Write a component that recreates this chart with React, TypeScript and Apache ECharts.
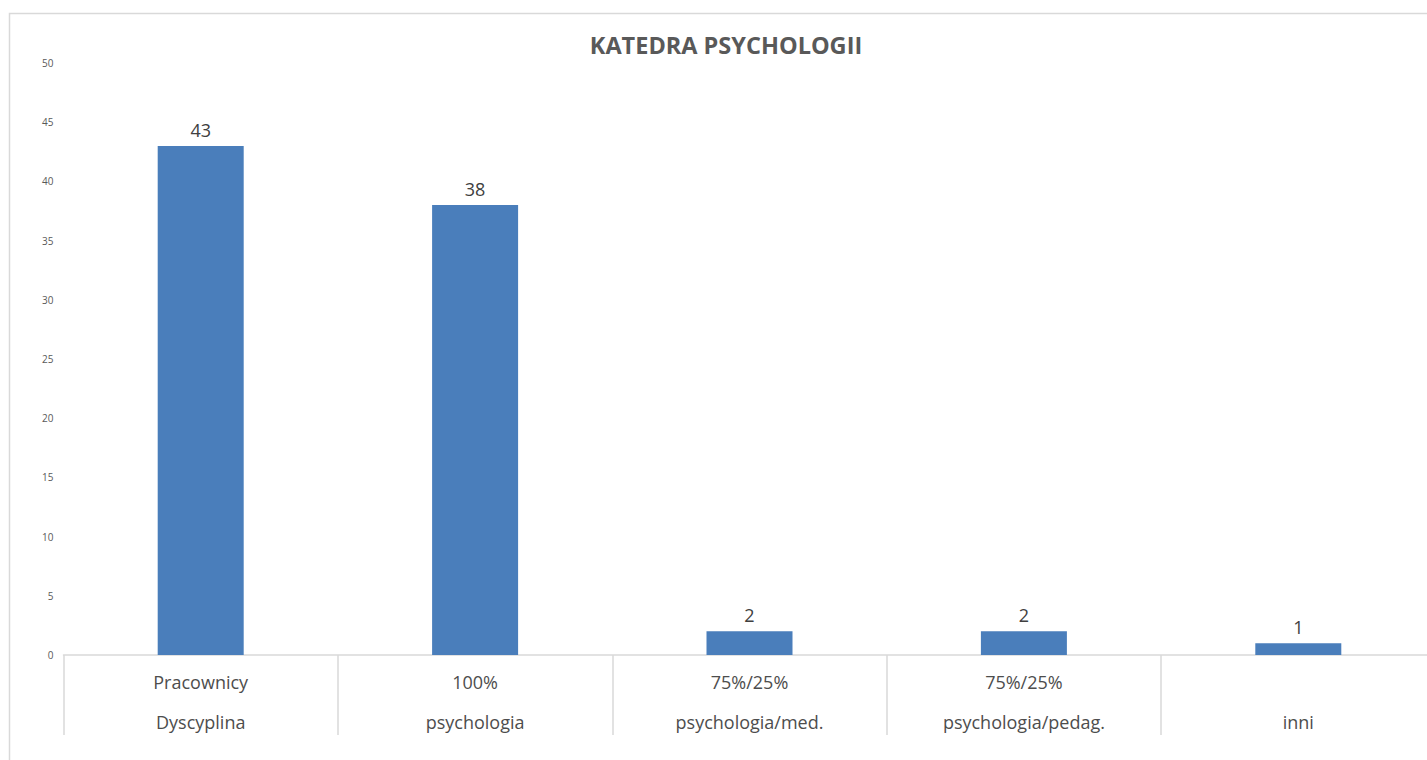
import React, { useEffect, useRef } from "react";
import * as echarts from "echarts";

const titleText = "KATEDRA PSYCHOLOGII";
const categoriesTop = ["Pracownicy", "100%", "75%/25%", "75%/25%", ""];
const categoriesBottom = ["Dyscyplina", "psychologia", "psychologia/med.", "psychologia/pedag.", "inni"];
const values = [43, 38, 2, 2, 1];
const yMin = 0;
const yMax = 50;
const yStep = 5;

const FONT = "'Open Sans', 'Noto Sans', sans-serif";

export default function App() {
  const ref = useRef<HTMLDivElement>(null);
  useEffect(() => {
    if (!ref.current) return;
    const chart = echarts.init(ref.current, undefined, { renderer: "svg" });
    const cats = categoriesTop.map((t, i) => `${t || " "}\n${categoriesBottom[i]}`);
    chart.setOption({
      animation: false,
      backgroundColor: "#ffffff",
      title: {
        text: titleText,
        left: 721,
        top: 28,
        textAlign: "center",
        textStyle: { fontFamily: FONT, fontSize: 23.5, fontWeight: "bold", color: "#595959" },
      },
      graphic: [
        {
          type: "rect",
          shape: { x: 9.5, y: 13.5, width: 1500, height: 800 },
          style: { fill: "none", stroke: "#d9d9d9", lineWidth: 1.5 },
          silent: true,
          z: -1,
        },
      ],
      grid: { left: 63.5, top: 63, width: 1372, height: 592, containLabel: false },
      xAxis: {
        type: "category",
        data: cats,
        axisLine: { show: true, lineStyle: { color: "#d9d9d9", width: 1.5 } },
        axisTick: { show: true, length: 80, interval: 0, lineStyle: { color: "#d9d9d9", width: 1.5 } },
        axisLabel: {
          interval: 0,
          margin: 7,
          fontFamily: FONT,
          fontSize: 18,
          lineHeight: 40,
          color: "#4d4d4d",
        },
      },
      yAxis: {
        type: "value",
        min: yMin,
        max: yMax,
        interval: yStep,
        axisLine: { show: false },
        axisTick: { show: false },
        splitLine: { show: false },
        axisLabel: { fontFamily: FONT, fontSize: 10, color: "#595959", margin: 10 },
      },
      series: [
        {
          type: "bar",
          data: values,
          barWidth: 86,
          itemStyle: { color: "#4A7EBB" },
          label: {
            show: true,
            position: "top",
            distance: 7,
            fontFamily: FONT,
            fontSize: 18,
            color: "#404040",
          },
        },
      ],
    });
    return () => chart.dispose();
  }, []);
  return (
    <div
      style={{
        position: "fixed",
        left: 0,
        top: 0,
        width: 1427,
        height: 760,
        overflow: "hidden",
        background: "#fff",
      }}
    >
      <div ref={ref} style={{ width: 1445, height: 770 }} />
    </div>
  );
}
